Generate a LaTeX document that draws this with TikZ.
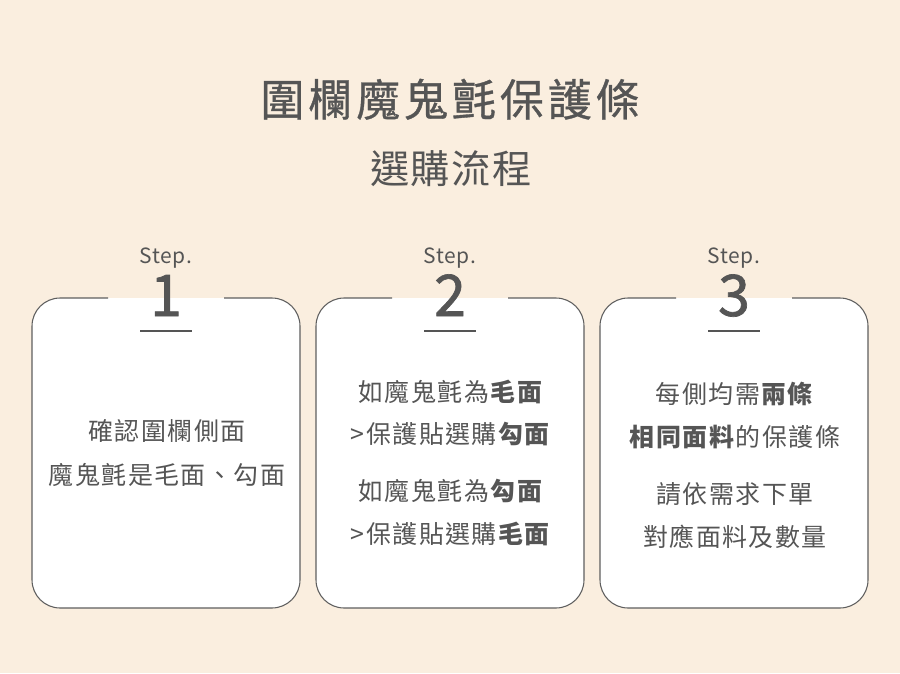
\documentclass[tikz,border=0pt]{standalone}
\usepackage{fontspec}
\setmainfont{Noto Sans CJK TC}
\usetikzlibrary{positioning}
\definecolor{bgbeige}{HTML}{FAEEDF}
\definecolor{inkgray}{HTML}{555555}
\definecolor{framegray}{HTML}{5E5E5E}
\newcommand{\pxfont}[2]{\fontsize{#1}{#2}\selectfont}

\begin{document}
\begin{tikzpicture}[
		x=0.03cm, y=-0.03cm,
		inktext/.style={text=inkgray, inner sep=0pt, anchor=base},
		titletext/.style={inktext, font=\pxfont{37.5}{44}\addfontfeature{LetterSpace=9, FakeBold=0.8}},
		subtext/.style={inktext, font=\pxfont{33.5}{40}\addfontfeature{LetterSpace=4}},
		steptext/.style={inktext, font=\pxfont{17.9}{22}\addfontfeature{LetterSpace=3}},
		numtext/.style={inktext, font=\pxfont{49}{56}\addfontfeature{FakeBold=1.2}},
		bodytext/.style={inktext, font=\pxfont{21.3}{26}\addfontfeature{LetterSpace=6}},
		boxframe/.style={draw=framegray, line width=0.9pt, fill=white, rounded corners=24pt},
		barline/.style={draw=inkgray, line width=2pt}
		]
		
		% ==========================================
		% Background and heading
		% ==========================================
		\path[fill=bgbeige] (0,0) rectangle (900,673);
		
		\node (title) [titletext] at (450,116) {圍欄魔鬼氈保護條};
		\node (subtitle) [subtext] at (451,183) {選購流程};
		
		% ==========================================
		% The three step cards
		% ==========================================
		\foreach \cx/\n in {166/1, 450/2, 734/3} {
			\filldraw[boxframe] (\cx+58,298) -- (\cx+134,298) -- (\cx+134,608)
			-- (\cx-134,608) -- (\cx-134,298) -- (\cx-58,298);
			\node (step\n) [steptext] at (\cx,263) {Step.};
			\node (num\n) [numtext] at (\cx,316) {\n};
			\draw[barline] (\cx-26,331) -- (\cx+26,331);
		}
		
		% Step 1
		\node (one-a) [bodytext] at (167,440) {確認圍欄側面};
		\node (one-b) [bodytext] at (167,484) {魔鬼氈是毛面、勾面};
		
		% Step 2
		\node (two-a) [bodytext] at (451,401) {如魔鬼氈為\textbf{毛面}};
		\node (two-b) [bodytext] at (451,443) {>保護貼選購\textbf{勾面}};
		\node (two-c) [bodytext] at (451,500) {如魔鬼氈為\textbf{勾面}};
		\node (two-d) [bodytext] at (451,543) {>保護貼選購\textbf{毛面}};
		
		% Step 3
		\node (three-a) [bodytext] at (735,403) {每側均需\textbf{兩條}};
		\node (three-b) [bodytext] at (735,446) {\textbf{相同面料}的保護條};
		\node (three-c) [bodytext] at (735,503) {請依需求下單};
		\node (three-d) [bodytext] at (735,546) {對應面料及數量};
		
	\end{tikzpicture}
\end{document}
